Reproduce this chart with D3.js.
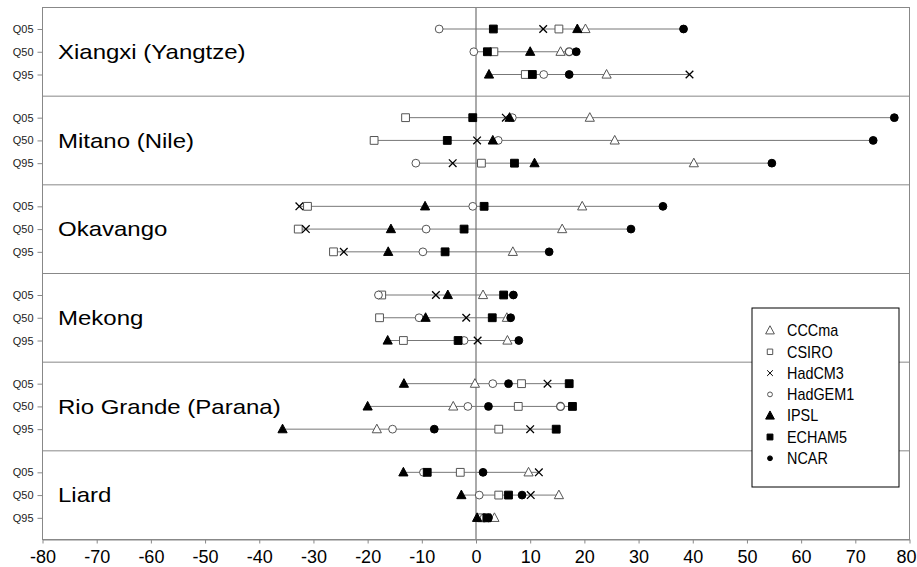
<!DOCTYPE html>
<html>
<head>
<meta charset="utf-8">
<script src="https://cdn.jsdelivr.net/npm/d3@7"></script>
<style>
  body { margin: 0; background: #fff; }
  svg { display: block; font-family: "Liberation Sans", Arial, sans-serif; }
</style>
</head>
<body>
<svg id="chart" width="917" height="567"></svg>
<script>
// Data (change in %, per basin and quantile).
var basins = ['Xiangxi (Yangtze)', 'Mitano (Nile)', 'Okavango', 'Mekong', 'Rio Grande (Parana)', 'Liard'];
var quantiles = ['Q05', 'Q50', 'Q95'];
var models = ['CCCma', 'CSIRO', 'HadCM3', 'HadGEM1', 'IPSL', 'ECHAM5', 'NCAR'];
var xTicks = d3.range(-80, 81, 10);

// One value per basin/quantile, in basin order, Q05 Q50 Q95 inside each basin.
var cccma   = [20.2, 15.6, 24.1,   21.0, 25.6, 40.2,   19.6, 15.9, 6.8,     1.3, 5.7, 5.8,      -0.2, -4.2, -18.3,   9.7, 15.3, 3.4];
var csiro   = [15.3, 3.3, 9.1,     -13.0, -18.8, 1.0,  -31.1, -32.8, -26.3, -17.4, -17.8, -13.4, 8.4, 7.8, 4.2,      -2.9, 4.2, 1.0];
var hadcm3  = [12.4, 17.2, 39.4,   5.5, 0.2, -4.3,     -32.6, -31.4, -24.4, -7.4, -1.8, 0.3,    13.2, 15.6, 10.0,    11.6, 10.1, 2.1];
var hadgem1 = [-6.8, -0.4, 12.5,   6.7, 4.1, -11.1,    -0.6, -9.2, -9.8,    -18.0, -10.5, -2.2, 3.1, -1.5, -15.4,    -9.7, 0.6, 1.5];
var ipsl    = [18.7, 10.0, 2.4,    6.2, 3.1, 10.8,     -9.4, -15.7, -16.2,  -5.2, -9.3, -16.3,  -13.3, -20.0, -35.7, -13.4, -2.7, 0.2];
var echam5  = [3.2, 2.1, 10.4,     -0.6, -5.3, 7.1,    1.5, -2.2, -5.7,     5.1, 3.0, -3.3,     17.2, 17.8, 14.8,    -9.0, 6.0, 2.0];
var ncar    = [38.3, 18.5, 17.2,   77.2, 73.3, 54.6,   34.5, 28.6, 13.5,    6.9, 6.4, 7.9,      6.0, 2.3, -7.7,      1.3, 8.5, 2.3];

// The original plotted HadCM3 with a circle in these two rows.
var hadcm3CircleRows = ['Xiangxi (Yangtze)|Q50', 'Rio Grande (Parana)|Q50'];

var seriesValues = {
  CCCma: cccma, CSIRO: csiro, HadCM3: hadcm3, HadGEM1: hadgem1,
  IPSL: ipsl, ECHAM5: echam5, NCAR: ncar
};

var style = {
  CCCma:   {shape: 'triangle', fill: '#fff', stroke: '#555', legendSize: 0.95},
  CSIRO:   {shape: 'square',   fill: '#fff', stroke: '#555', legendSize: 0.7},
  HadCM3:  {shape: 'x',        fill: 'none', stroke: '#000', legendSize: 0.75},
  HadGEM1: {shape: 'circle',   fill: '#fff', stroke: '#555', legendSize: 0.62},
  IPSL:    {shape: 'triangle', fill: '#000', stroke: '#000', legendSize: 0.95},
  ECHAM5:  {shape: 'square',   fill: '#000', stroke: '#000', legendSize: 0.75},
  NCAR:    {shape: 'circle',   fill: '#000', stroke: '#000', legendSize: 0.62}
};

function symbolPath(shape, s) {
  if (shape === 'triangle') return 'M0,' + (-5 * s) + 'L' + (4.6 * s) + ',' + (3.6 * s) + 'L' + (-4.6 * s) + ',' + (3.6 * s) + 'Z';
  if (shape === 'square') return 'M' + (-3.9 * s) + ',' + (-3.9 * s) + 'h' + (7.8 * s) + 'v' + (7.8 * s) + 'h' + (-7.8 * s) + 'Z';
  if (shape === 'circle') { var r = 3.9 * s; return 'M' + r + ',0A' + r + ',' + r + ' 0 1,1 ' + (-r) + ',0A' + r + ',' + r + ' 0 1,1 ' + r + ',0Z'; }
  var a = 3.8 * s;
  return 'M' + (-a) + ',' + (-a) + 'L' + a + ',' + a + 'M' + (-a) + ',' + a + 'L' + a + ',' + (-a);
}

(function() {
  var svg = d3.select('#chart');
  var plotLeft = 42.5, plotRight = 909.5, plotTop = 7.5, plotBottom = 539.5;

  var x = d3.scaleLinear().domain([-80, 80]).range([plotLeft, plotRight]);
  var panel = d3.scaleBand().domain(basins).range([plotTop, plotBottom]);
  var row = d3.scalePoint().domain(quantiles).range([21.5, 67]);

  // Flatten into rows.
  var rows = [];
  basins.forEach(function(b, i) {
    quantiles.forEach(function(q, j) {
      var k = i * 3 + j;
      rows.push({
        basin: b, q: q,
        points: models.map(function(m) { return {model: m, value: seriesValues[m][k]}; })
      });
    });
  });
  function rowY(d) { return panel(d.basin) + row(d.q); }
  function isCircle(m, d) {
    return m === 'HadCM3' && hadcm3CircleRows.indexOf(d.basin + '|' + d.q) >= 0;
  }

  // Zero line.
  svg.append('line')
      .attr('x1', x(0)).attr('x2', x(0))
      .attr('y1', plotTop).attr('y2', plotBottom)
      .style('stroke', '#aaa')
      .style('stroke-width', 2);

  // Panel separators and frame.
  svg.selectAll('.sep')
      .data(basins.slice(1))
    .enter().append('line')
      .attr('class', 'sep')
      .attr('x1', plotLeft).attr('x2', plotRight)
      .attr('y1', function(d) { return panel(d); })
      .attr('y2', function(d) { return panel(d); })
      .style('stroke', '#888');
  svg.append('rect')
      .attr('x', plotLeft).attr('y', plotTop)
      .attr('width', plotRight - plotLeft).attr('height', plotBottom - plotTop)
      .style('fill', 'none')
      .style('stroke', '#888');

  // Range lines.
  svg.selectAll('.range')
      .data(rows)
    .enter().append('line')
      .attr('class', 'range')
      .attr('x1', function(d) { return x(d3.min(d.points, function(p) { return p.value; })); })
      .attr('x2', function(d) { return x(d3.max(d.points, function(p) { return p.value; })); })
      .attr('y1', rowY).attr('y2', rowY)
      .style('stroke', '#777');

  // Markers, drawn model by model.
  models.forEach(function(m, mi) {
    var st = style[m];
    svg.selectAll('.mk-' + m)
        .data(rows)
      .enter().append('path')
        .attr('class', 'mk-' + m)
        .attr('transform', function(d) {
          return 'translate(' + x(d.points[mi].value) + ',' + rowY(d) + ')';
        })
        .attr('d', function(d) { return symbolPath(isCircle(m, d) ? 'circle' : st.shape, 1); })
        .style('fill', function(d) { return isCircle(m, d) ? '#fff' : st.fill; })
        .style('stroke', function(d) { return isCircle(m, d) ? '#555' : st.stroke; })
        .style('stroke-width', st.shape === 'x' ? 1.3 : 1);
  });

  // Left Q axes per panel.
  basins.forEach(function(b) {
    var g = svg.append('g')
        .attr('transform', 'translate(' + plotLeft + ',' + panel(b) + ')')
        .call(d3.axisLeft(row).tickSize(5).tickPadding(4).tickSizeOuter(0));
    g.select('.domain').remove();
    g.selectAll('line').style('stroke', '#888');
    g.selectAll('text').style('font-size', '11px').style('fill', '#222')
        .style('font-family', '"Liberation Sans", Arial, sans-serif');
  });

  // Basin names.
  svg.selectAll('.basin')
      .data(basins)
    .enter().append('text')
      .attr('class', 'basin')
      .attr('transform', function(d) { return 'translate(58,' + (panel(d) + row('Q50')) + ') scale(1.2,1)'; })
      .attr('dy', '0.36em')
      .style('font-size', '20px')
      .text(function(d) { return d; });

  // Bottom axis.
  var xAxis = svg.append('g')
      .attr('transform', 'translate(0,' + plotBottom + ')')
      .call(d3.axisBottom(x).tickValues(xTicks).tickFormat(function(d) { return String(d); })
        .tickSize(4).tickPadding(7).tickSizeOuter(0));
  xAxis.select('.domain').style('stroke', '#888');
  xAxis.selectAll('line').style('stroke', '#888');
  xAxis.selectAll('text')
      .style('font-size', '18px')
      .style('fill', '#000')
      .style('font-family', '"Liberation Sans", Arial, sans-serif');
  // Keep the last label inside the picture.
  xAxis.selectAll('.tick')
      .filter(function(d) { return d === 80; })
      .select('text')
      .attr('text-anchor', 'end')
      .attr('x', 916 - plotRight);

  // Legend.
  var legend = svg.append('g').attr('transform', 'translate(752,308)');
  legend.append('rect')
      .attr('width', 147).attr('height', 179)
      .style('fill', '#fff')
      .style('stroke', '#000');
  var items = legend.selectAll('.item')
      .data(models)
    .enter().append('g')
      .attr('class', 'item')
      .attr('transform', function(d, i) { return 'translate(18,' + (22.5 + i * 21.3) + ')'; });
  items.append('path')
      .attr('d', function(d) { return symbolPath(style[d].shape, style[d].legendSize); })
      .style('fill', function(d) { return style[d].fill; })
      .style('stroke', function(d) { return style[d].stroke; })
      .style('stroke-width', 1);
  items.append('text')
      .attr('transform', 'translate(17,0) scale(0.9,1)')
      .attr('dy', '0.36em')
      .style('font-size', '16px')
      .text(function(d) { return d; });
})();
</script>
</body>
</html>
